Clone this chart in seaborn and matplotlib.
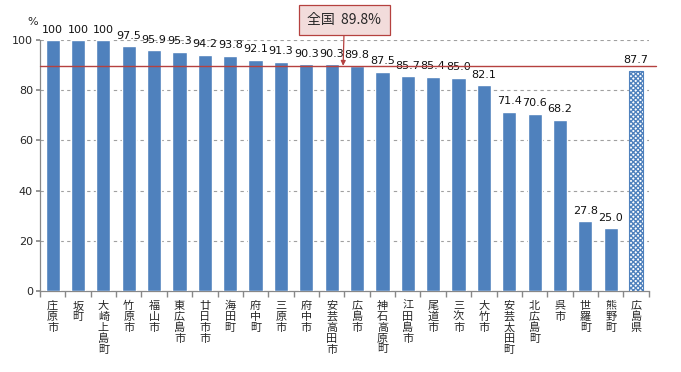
import matplotlib
matplotlib.use("Agg")
import matplotlib.pyplot as plt
import seaborn as sns
import pandas as pd
import numpy as np

categories = ["庄原市", "坂町", "大崎上島町", "竹原市", "福山市", "東広島市", "廿日市市", "海田町",
              "府中町", "三原市", "府中市", "安芸高田市", "広島市", "神石高原町", "江田島市", "尾道市",
              "三次市", "大竹市", "安芸太田町", "北広島町", "呉市", "世羅町", "熊野町", "広島県"]
values = [100, 100, 100, 97.5, 95.9, 95.3, 94.2, 93.8, 92.1, 91.3, 90.3, 90.3, 89.8, 87.5, 85.7,
          85.4, 85.0, 82.1, 71.4, 70.6, 68.2, 27.8, 25.0, 87.7]
value_labels = ["100", "100", "100", "97.5", "95.9", "95.3", "94.2", "93.8", "92.1", "91.3", "90.3",
                "90.3", "89.8", "87.5", "85.7", "85.4", "85.0", "82.1", "71.4", "70.6", "68.2",
                "27.8", "25.0", "87.7"]
national_value = 89.8
national_label = "全国  89.8%"
yticks = [0, 20, 40, 60, 80, 100]

sns.set_theme(style="white")
plt.rcParams["font.family"] = ["Noto Sans CJK JP", "DejaVu Sans"]
plt.rcParams["hatch.linewidth"] = 1.0

df = pd.DataFrame({"cat": categories, "val": values})

fig = plt.figure(figsize=(6.81, 3.72), dpi=100)
ax = fig.add_axes([0.0587, 0.218, 0.894, 0.674])

blue = "#4F81BD"
sns.barplot(data=df, x="cat", y="val", order=categories, color=blue, width=0.56,
            saturation=1, ax=ax, zorder=3)

last = ax.patches[-1]
last.set_facecolor("white")
last.set_edgecolor(blue)
last.set_hatch("xxxxxxx")
last.set_linewidth(0.8)

ax.set_xlim(-0.5, len(categories) - 0.5)
ax.set_ylim(0, 100)
ax.set_yticks(yticks)
ax.set_yticklabels([str(t) for t in yticks], fontsize=8, family="DejaVu Sans")
ax.set_xlabel("")
ax.set_ylabel("")

# vertical stacked labels
ax.set_xticks(range(len(categories)))
ax.set_xticklabels(["\n".join(c) for c in categories], fontsize=8, va="top", linespacing=1.12)
ax.tick_params(axis="x", length=0, pad=7)
ax.set_xticks(np.arange(-0.5, len(categories), 1), minor=True)
ax.tick_params(axis="x", which="minor", length=4, color="#888888", direction="out", bottom=True)
ax.tick_params(axis="y", length=3, color="#888888", direction="out", left=True, pad=2)

for y in yticks[1:]:
    ax.axhline(y, color="#A0A0A0", linestyle=(0, (3, 3)), linewidth=0.8, zorder=1)

for s in ["top", "right"]:
    ax.spines[s].set_visible(False)
for s in ["left", "bottom"]:
    ax.spines[s].set_color("#888888")
    ax.spines[s].set_linewidth(0.9)

# value labels
for i, (v, lab) in enumerate(zip(values, value_labels)):
    ax.text(i, v + 2.2, lab, ha="center", va="bottom", fontsize=8, family="DejaVu Sans",
            color="#111111", clip_on=False)

# national line
red = "#B5413F"
ax.plot([-0.5, len(categories) - 0.2], [national_value, national_value], color=red,
        linewidth=1.0, clip_on=False, zorder=4)

ax.annotate(national_label, xy=(11.45, national_value), xytext=(11.5, 108),
            textcoords="data", ha="center", va="center", fontsize=10,
            bbox=dict(boxstyle="square,pad=0.6", fc="#F2DCDB", ec=red, lw=0.9),
            arrowprops=dict(arrowstyle="-|>", color=red, lw=0.9, shrinkA=0, shrinkB=0,
                            mutation_scale=7),
            annotation_clip=False, zorder=5)

fig.text(33 / 681, 1 - 22 / 372, "%", fontsize=8, family="DejaVu Sans", ha="center", va="center")

fig.savefig("out.png", dpi=100)
